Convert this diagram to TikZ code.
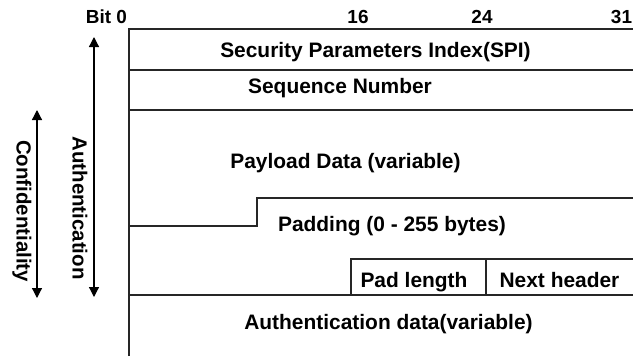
\documentclass[tikz,border=0pt]{standalone}
\usepackage{fontspec}
\setmainfont{Liberation Sans}
\usetikzlibrary{arrows.meta}

\begin{document}
\begin{tikzpicture}[x=1bp,y=-1bp,
  frame/.style={draw=black!85,line width=1.3bp},
  span/.style={draw=black,line width=1.2bp,
    {Triangle[width=10bp,length=10bp]}-{Triangle[width=10bp,length=10bp]}},
  field/.style={font=\bfseries\fontsize{21}{24}\selectfont,anchor=base,inner sep=0pt},
  bitlabel/.style={font=\bfseries\fontsize{19}{22}\selectfont,anchor=base,inner sep=0pt},
  sidelabel/.style={font=\bfseries\fontsize{20.5}{24}\selectfont,rotate=-90,inner sep=0pt}]
\useasboundingbox (0,0) rectangle (633,356);

% ESP packet outline
\draw[frame] (129,356) -- (129,29) -- (633,29);
\draw[frame] (129,70) -- (633,70);
\draw[frame] (129,110) -- (633,110);
\draw[frame] (129,226) -- (257,226) -- (257,198) -- (633,198);
\draw[frame] (351,295) -- (351,259) -- (633,259);
\draw[frame] (486,259) -- (486,295);
\draw[frame] (129,295) -- (633,295);

% bit positions
\node[bitlabel] (b0)  at (106.5,23) {Bit 0};
\node[bitlabel] (b16) at (358,23) {16};
\node[bitlabel] (b24) at (482,23) {24};
\node[bitlabel] (b31) at (621.5,23) {31};

% field names
\node[field] (spi)    at (375.5,57)  {Security Parameters Index(SPI)};
\node[field] (seq)    at (340,93.5)  {Sequence Number};
\node[field] (pay)    at (345.5,168.5) {Payload Data (variable)};
\node[field] (pad)    at (392,231)   {Padding (0 - 255 bytes)};
\node[field] (padlen) at (414,287)   {Pad length};
\node[field] (next)   at (559.5,287) {Next header};
\node[field] (authd)  at (388.5,329.5) {Authentication data(variable)};

% coverage ranges
\coordinate (authtop) at (94,37);
\coordinate (authbot) at (94,297);
\coordinate (conftop) at (37,110);
\coordinate (confbot) at (37,298);
\draw[span] (authtop) -- (authbot);
\draw[span] (conftop) -- (confbot);
\node[sidelabel] (authlab) at (80,208) {Authentication};
\node[sidelabel] (conflab) at (22,211) {Confidentiality};
\end{tikzpicture}
\end{document}
